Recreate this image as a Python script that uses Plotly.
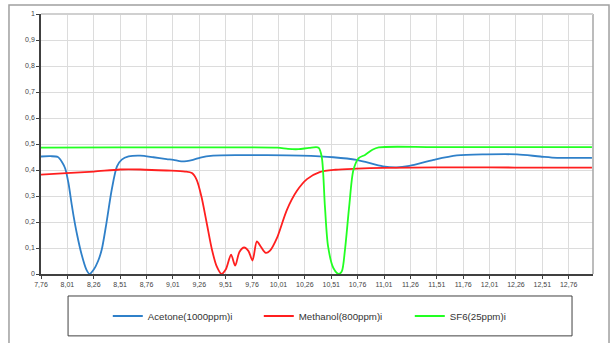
import plotly.graph_objects as go

# ---------------- data ----------------
acetone_x = [7.76, 7.85, 7.92, 7.96, 7.99, 8.02, 8.05, 8.07, 8.10, 8.145, 8.19, 8.22, 8.26, 8.30,
             8.335, 8.38, 8.43, 8.48, 8.525, 8.59, 8.70, 8.825, 8.95, 9.015, 9.09, 9.20, 9.27,
             9.39, 9.65, 9.90, 10.22, 10.53, 10.75, 11.00, 11.13, 11.25, 11.48, 11.70, 11.98,
             12.27, 12.49, 12.65, 12.98]
acetone_y = [0.452, 0.453, 0.450, 0.430, 0.405, 0.350, 0.270, 0.220, 0.155, 0.075, 0.017, 0.0,
             0.017, 0.049, 0.093, 0.196, 0.324, 0.414, 0.440, 0.452, 0.455, 0.449, 0.442, 0.439,
             0.433, 0.439, 0.448, 0.455, 0.457, 0.457, 0.455, 0.449, 0.439, 0.414, 0.410, 0.416,
             0.439, 0.456, 0.460, 0.460, 0.452, 0.447, 0.447]

methanol_x = [7.76, 8.00, 8.26, 8.51, 8.70, 8.95, 9.125, 9.19, 9.235, 9.28, 9.33, 9.38, 9.425,
              9.47, 9.51, 9.561, 9.60, 9.64, 9.685, 9.726, 9.764, 9.805, 9.843, 9.89, 9.93,
              9.995, 10.09, 10.185, 10.28, 10.40, 10.55, 10.75, 11.00, 11.50, 12.00, 12.50, 12.98]
methanol_y = [0.382, 0.388, 0.394, 0.402, 0.402, 0.398, 0.394, 0.388, 0.362, 0.298, 0.196, 0.093,
              0.029, 0.0, 0.017, 0.074, 0.032, 0.085, 0.102, 0.088, 0.052, 0.125, 0.105, 0.081,
              0.090, 0.138, 0.247, 0.320, 0.365, 0.392, 0.401, 0.405, 0.408, 0.410, 0.410, 0.409,
              0.409]

sf6_x = [7.76, 8.50, 9.50, 10.00, 10.10, 10.20, 10.30, 10.39, 10.42, 10.45, 10.48, 10.53, 10.58,
         10.61, 10.64, 10.68, 10.72, 10.77, 10.83, 10.90, 10.96, 11.50, 12.98]
sf6_y = [0.486, 0.487, 0.487, 0.486, 0.481, 0.480, 0.485, 0.486, 0.450, 0.260, 0.106, 0.023, 0.0,
         0.010, 0.093, 0.260, 0.400, 0.446, 0.458, 0.478, 0.487, 0.488, 0.488]

series_names = ["Acetone(1000ppm)i", "Methanol(800ppm)i", "SF6(25ppm)i"]
series_colors = ["#2f80c9", "#ff1f1f", "#22ff22"]

# ---------------- figure ----------------
fig = go.Figure()
for xs, ys, name, col in zip([acetone_x, methanol_x, sf6_x],
                             [acetone_y, methanol_y, sf6_y],
                             series_names, series_colors):
    fig.add_trace(go.Scatter(x=xs, y=ys, name=name, mode="lines",
                             line=dict(color=col, width=1.8, shape="spline", smoothing=0.8)))

fig.update_layout(
    width=613, height=343,
    margin=dict(l=41, r=20, t=14, b=69, autoexpand=False),
    paper_bgcolor="white", plot_bgcolor="white",
    separators=",.",
    font=dict(family="Liberation Sans, Arial, sans-serif", color="#333333"),
    showlegend=True,
    legend=dict(orientation="h", x=0.121, xanchor="left", y=-0.1615, yanchor="middle",
                font=dict(size=9.7, color="#333333"), itemwidth=30,
                entrywidth=106, entrywidthmode="pixels",
                bgcolor="rgba(0,0,0,0)", borderwidth=0),
    xaxis=dict(range=[7.76, 12.99], tickmode="linear", tick0=7.76, dtick=0.25,
               tickformat=".2f", tickfont=dict(size=7, color="#444444"),
               showgrid=True, gridcolor="#dcdcdc", gridwidth=1,
               showline=True, linecolor="#404040", linewidth=1.5,
               ticks="outside", ticklen=3, tickcolor="#404040", zeroline=False),
    yaxis=dict(range=[0, 1], tickmode="linear", tick0=0, dtick=0.1,
               tickfont=dict(size=7, color="#444444"),
               showgrid=True, gridcolor="#dcdcdc", gridwidth=1,
               showline=True, linecolor="#404040", linewidth=1.5,
               ticks="outside", ticklen=3, tickcolor="#404040", zeroline=False),
    shapes=[
        # right / top plot frame
        dict(type="line", xref="paper", yref="paper", x0=1, x1=1, y0=0, y1=1,
             line=dict(color="#a6a6a6", width=1.5)),
        dict(type="line", xref="paper", yref="paper", x0=0, x1=1, y0=1, y1=1,
             line=dict(color="#d0d0d0", width=2)),
        # legend box
        dict(type="rect", xref="paper", yref="paper", x0=0.049, x1=0.962, y0=-0.238, y1=-0.0846,
             line=dict(color="#404040", width=1), fillcolor="rgba(0,0,0,0)"),
        # outer chart frame
        dict(type="rect", xref="paper", yref="paper", x0=-0.058, x1=1.029, y0=-0.30, y1=1.035,
             line=dict(color="#a0a0a0", width=1.5), fillcolor="rgba(0,0,0,0)"),
    ],
)

fig.write_html("out.html", config={"displayModeBar": False},
               post_script="document.body.style.margin='0';")
